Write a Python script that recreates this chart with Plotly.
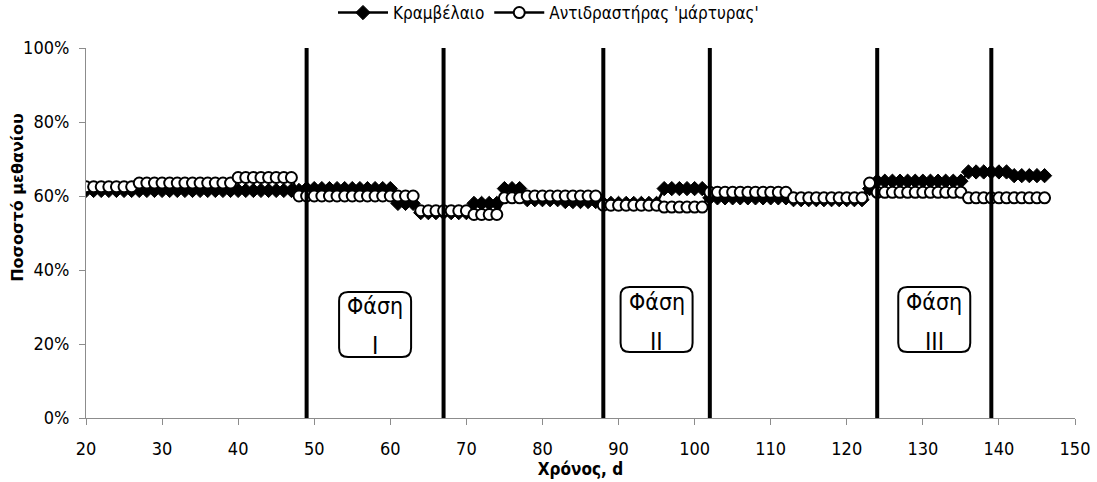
import plotly.graph_objects as go

# Days of operation
days = list(range(20, 147))

# Methane content (%) - reactor fed with rapeseed oil
rapeseed = [
    61.5, 61.5, 61.5, 61.5, 61.5, 61.5, 61.5, 61.5, 61.5, 61.5,   # 20-29
    61.5, 61.5, 61.5, 61.5, 61.5, 61.5, 61.5, 61.5, 61.5, 61.5,   # 30-39
    61.5, 61.5, 61.5, 61.5, 61.5, 61.5, 61.5, 61.5, 61.5, 62.0,   # 40-49
    62.0, 62.0, 62.0, 62.0, 62.0, 62.0, 62.0, 62.0, 62.0, 62.0,   # 50-59
    62.0, 58.0, 58.0, 58.0, 55.5, 55.5, 55.5, 55.5, 55.5, 55.5,   # 60-69
    55.5, 58.0, 58.0, 58.0, 58.0, 62.0, 62.0, 62.0, 59.0, 59.0,   # 70-79
    59.0, 59.0, 59.0, 58.5, 58.5, 58.5, 58.5, 58.5, 58.0, 58.0,   # 80-89
    58.0, 58.0, 58.0, 58.0, 58.0, 58.0, 62.0, 62.0, 62.0, 62.0,   # 90-99
    62.0, 62.0, 59.5, 59.5, 59.5, 59.5, 59.5, 59.5, 59.5, 59.5,   # 100-109
    59.5, 59.5, 59.5, 59.0, 59.0, 59.0, 59.0, 59.0, 59.0, 59.0,   # 110-119
    59.0, 59.0, 59.0, 62.0, 64.0, 64.0, 64.0, 64.0, 64.0, 64.0,   # 120-129
    64.0, 64.0, 64.0, 64.0, 64.0, 64.0, 66.5, 66.5, 66.5, 66.5,   # 130-139
    66.5, 66.5, 65.5, 65.5, 65.5, 65.5, 65.5,                     # 140-146
]

# Methane content (%) - control reactor
control = [
    62.5, 62.5, 62.5, 62.5, 62.5, 62.5, 62.5, 63.5, 63.5, 63.5,   # 20-29
    63.5, 63.5, 63.5, 63.5, 63.5, 63.5, 63.5, 63.5, 63.5, 63.5,   # 30-39
    65.0, 65.0, 65.0, 65.0, 65.0, 65.0, 65.0, 65.0, 60.0, 60.0,   # 40-49
    60.0, 60.0, 60.0, 60.0, 60.0, 60.0, 60.0, 60.0, 60.0, 60.0,   # 50-59
    60.0, 60.0, 60.0, 60.0, 56.0, 56.0, 56.0, 56.0, 56.0, 56.0,   # 60-69
    56.0, 55.0, 55.0, 55.0, 55.0, 59.5, 59.5, 59.5, 60.0, 60.0,   # 70-79
    60.0, 60.0, 60.0, 60.0, 60.0, 60.0, 60.0, 60.0, 57.5, 57.5,   # 80-89
    57.5, 57.5, 57.5, 57.5, 57.5, 57.5, 57.0, 57.0, 57.0, 57.0,   # 90-99
    57.0, 57.0, 61.0, 61.0, 61.0, 61.0, 61.0, 61.0, 61.0, 61.0,   # 100-109
    61.0, 61.0, 61.0, 59.5, 59.5, 59.5, 59.5, 59.5, 59.5, 59.5,   # 110-119
    59.5, 59.5, 59.5, 63.5, 61.0, 61.0, 61.0, 61.0, 61.0, 61.0,   # 120-129
    61.0, 61.0, 61.0, 61.0, 61.0, 61.0, 59.5, 59.5, 59.5, 59.5,   # 130-139
    59.5, 59.5, 59.5, 59.5, 59.5, 59.5, 59.5,                     # 140-146
]

# Phase boundaries (days)
phase_bounds = [49, 67, 88, 102, 124, 139]

# Phase labels
phase_names = ["I", "II", "III"]
phase_centers = [58, 95, 131.5]
phase_box_y = [25.3, 26.6, 26.6]

y_ticks = [0, 20, 40, 60, 80, 100]
y_tick_labels = ["0%", "20%", "40%", "60%", "80%", "100%"]
x_ticks = list(range(20, 151, 10))

COND = "Liberation Sans Narrow, DejaVu Sans Condensed, Liberation Sans, sans-serif"

fig = go.Figure()

fig.add_trace(go.Scatter(
    x=days, y=rapeseed, name="Κραμβέλαιο", mode="lines+markers",
    line=dict(color="black", width=2.5),
    marker=dict(symbol="diamond", size=11, color="black",
                line=dict(color="black", width=1)),
))
fig.add_trace(go.Scatter(
    x=days, y=control, name="Αντιδραστήρας 'μάρτυρας'", mode="lines+markers",
    line=dict(color="black", width=2.5),
    marker=dict(symbol="circle", size=11, color="white",
                line=dict(color="black", width=2)),
))

shapes = []
for b in phase_bounds:
    shapes.append(dict(type="line", xref="x", yref="y", x0=b, x1=b, y0=0, y1=100,
                       line=dict(color="black", width=4), layer="above"))

# rounded boxes around phase labels (sized in pixels)
w, h, r = 72, 65, 9
hw, hh = w / 2, h / 2
box_path = (
    f"M {-hw + r},{-hh} L {hw - r},{-hh} Q {hw},{-hh} {hw},{-hh + r} "
    f"L {hw},{hh - r} Q {hw},{hh} {hw - r},{hh} L {-hw + r},{hh} "
    f"Q {-hw},{hh} {-hw},{hh - r} L {-hw},{-hh + r} Q {-hw},{-hh} {-hw + r},{-hh} Z"
)
annotations = []
for name, cx, cy in zip(phase_names, phase_centers, phase_box_y):
    shapes.append(dict(type="path", xref="x", yref="y", xsizemode="pixel",
                       ysizemode="pixel", xanchor=cx, yanchor=cy, path=box_path,
                       line=dict(color="black", width=2), fillcolor="white",
                       layer="above"))
    annotations.append(dict(x=cx, y=cy, xref="x", yref="y", text="Φάση",
                            showarrow=False, yshift=18,
                            font=dict(family=COND, size=23, color="black")))
    annotations.append(dict(x=cx, y=cy, xref="x", yref="y", text=name,
                            showarrow=False, yshift=-22,
                            font=dict(family=COND, size=24, color="black")))

# y-axis title, placed a little above the axis centre
annotations.append(dict(x=0, y=0.595, xref="paper", yref="paper", xshift=-68,
                        xanchor="center", yanchor="middle",
                        text="<b>Ποσοστό μεθανίου</b>", textangle=-90,
                        showarrow=False,
                        font=dict(family="DejaVu Sans, sans-serif", size=16,
                                  color="black")))

fig.update_layout(
    width=1097, height=482,
    margin=dict(l=86, r=22, t=48, b=64, autoexpand=False),
    paper_bgcolor="white", plot_bgcolor="white",
    showlegend=True,
    legend=dict(orientation="h", x=0.5, xanchor="center", xref="container",
                y=1 - 13 / 482, yref="container", yanchor="middle",
                font=dict(family=COND, size=17, color="black"),
                itemwidth=50, tracegroupgap=0),
    shapes=shapes, annotations=annotations,
    xaxis=dict(range=[20, 150], tickvals=x_ticks, showgrid=False, zeroline=False,
               showline=True, linecolor="#8c8c8c", linewidth=1,
               ticks="outside", ticklen=6, tickcolor="#8c8c8c",
               ticklabelstandoff=8,
               tickfont=dict(family=COND, size=18, color="black"),
               title=dict(text="<b>Χρόνος, d</b>", standoff=0,
                          font=dict(family=COND, size=17, color="black"))),
    yaxis=dict(range=[0, 100], tickvals=y_ticks, ticktext=y_tick_labels,
               showgrid=False, zeroline=False, showline=True,
               linecolor="#8c8c8c", linewidth=1,
               ticks="outside", ticklen=6, tickcolor="#8c8c8c",
               ticklabelstandoff=6,
               tickfont=dict(family=COND, size=18, color="black")),
)

fig.write_html("out.html")
